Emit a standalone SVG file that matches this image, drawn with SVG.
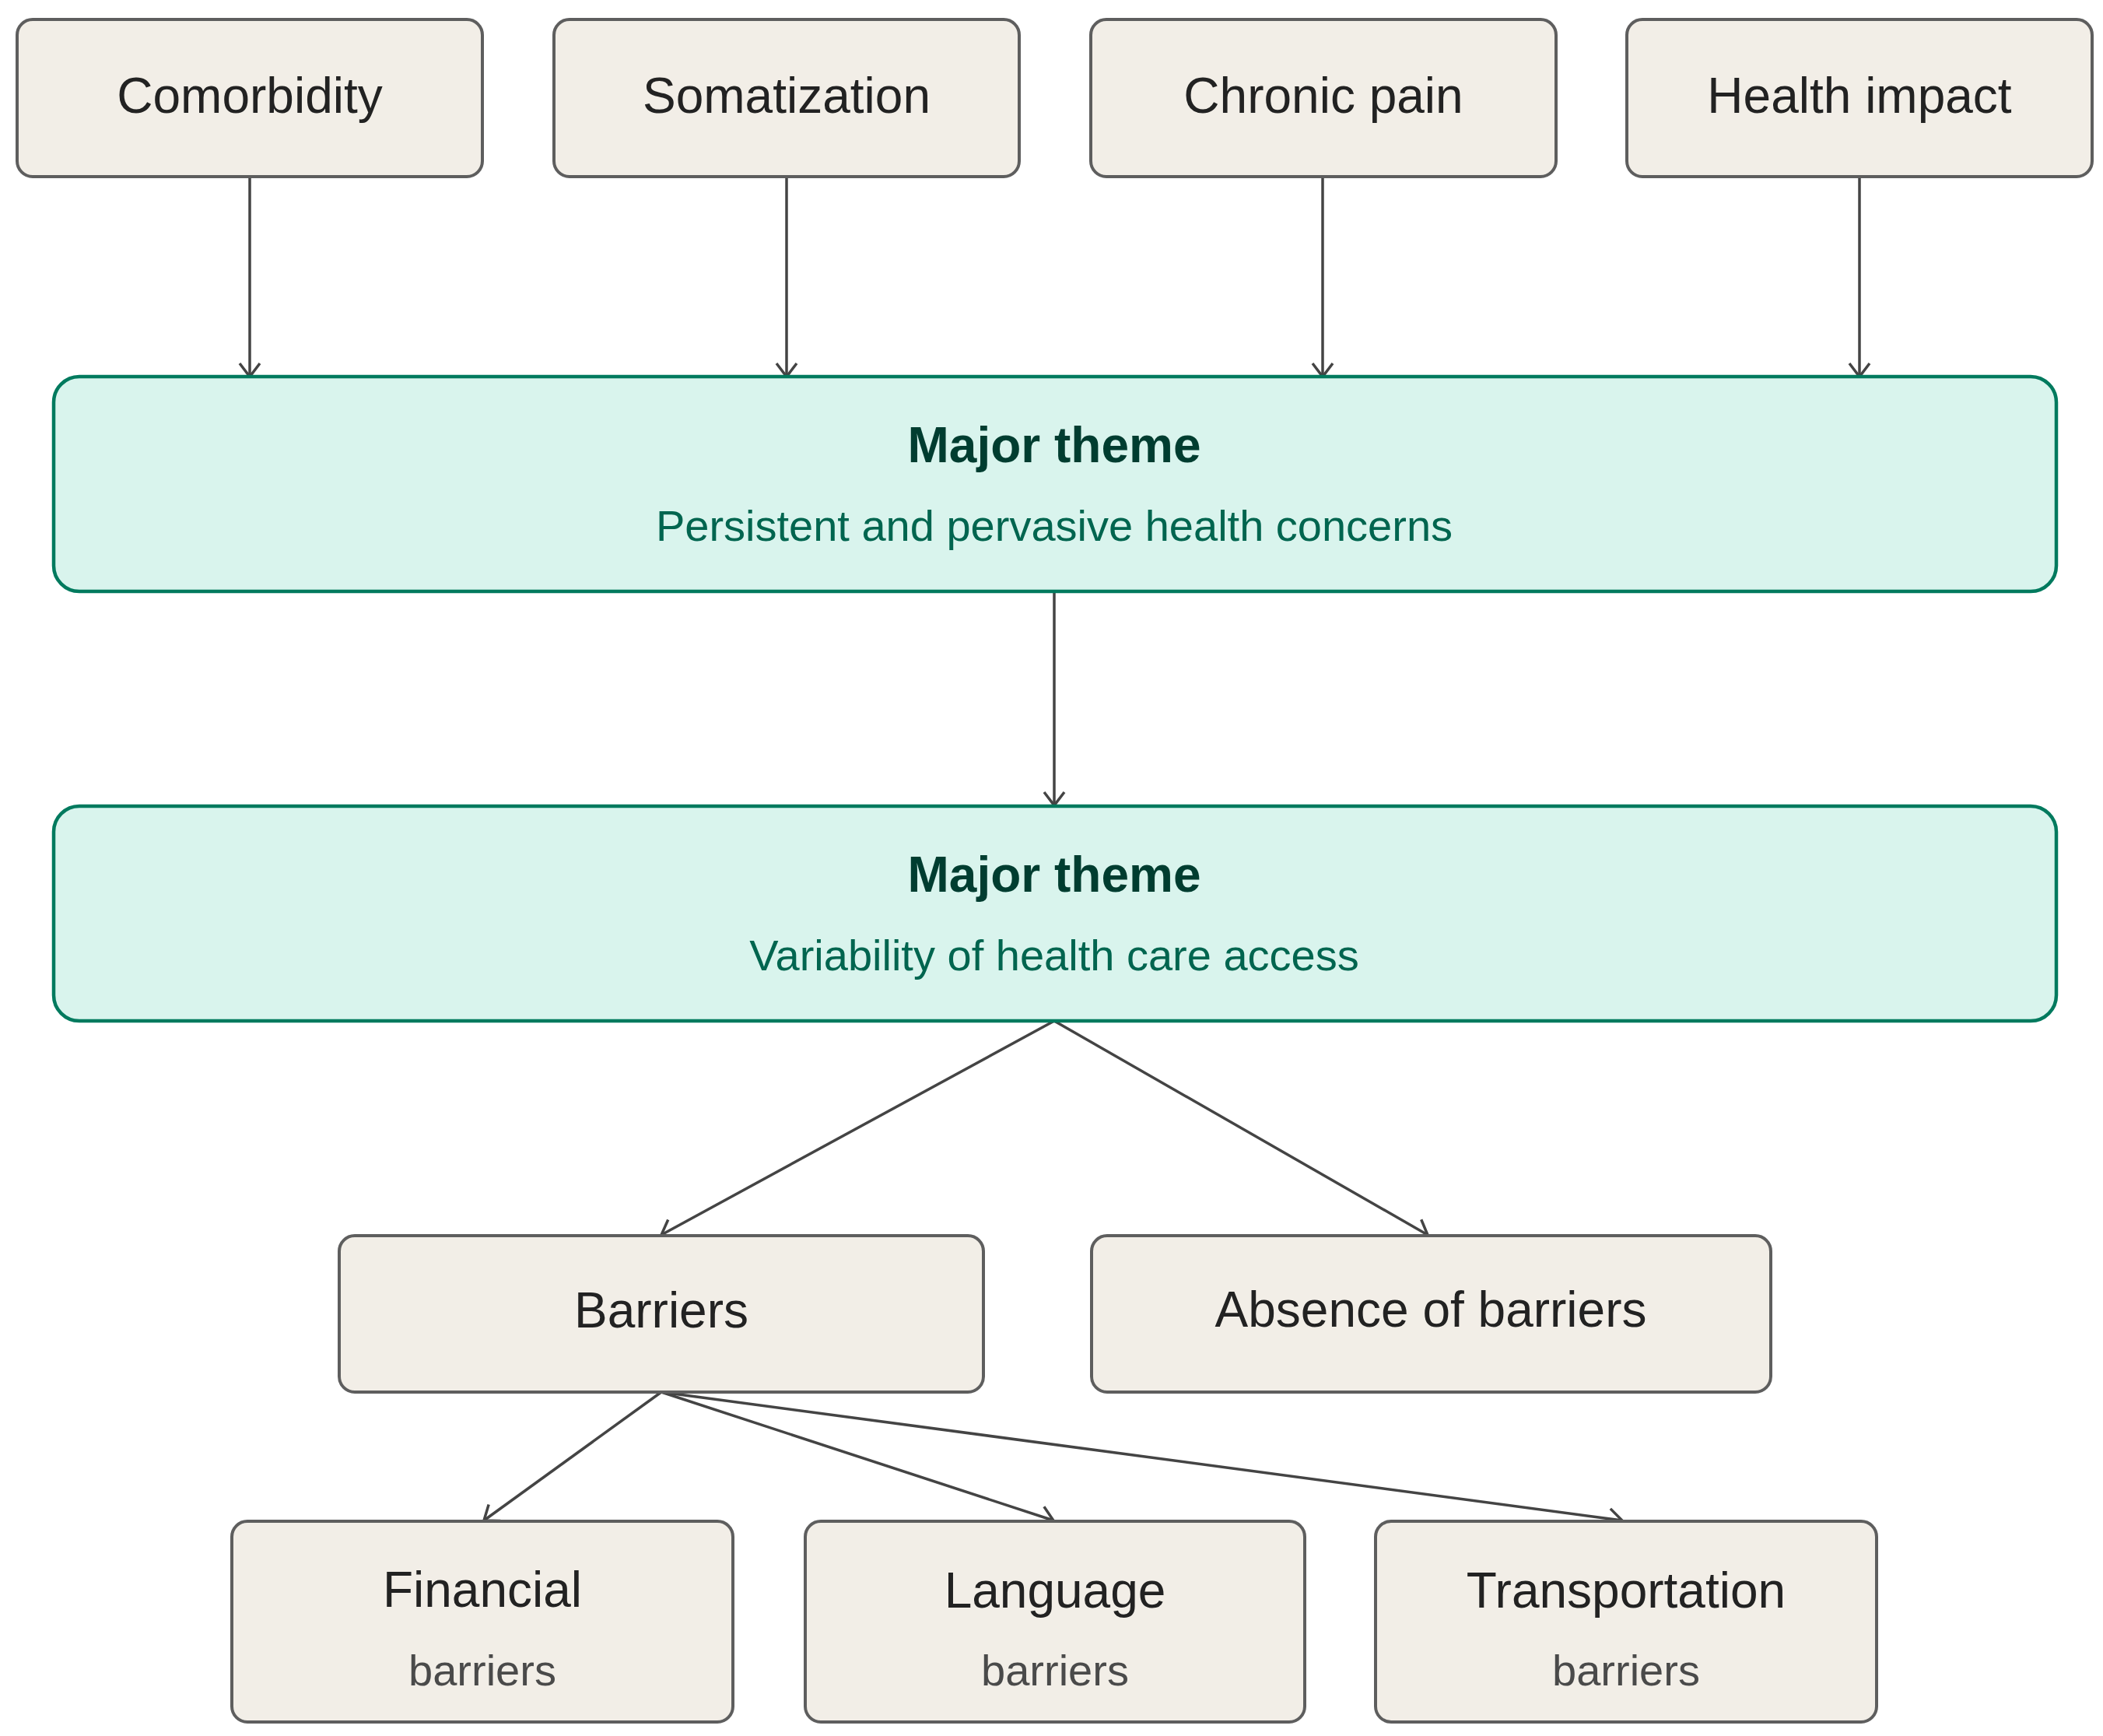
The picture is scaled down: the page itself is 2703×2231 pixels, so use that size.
<svg xmlns="http://www.w3.org/2000/svg" width="2703" height="2231" viewBox="0 0 2703 2231">
<defs>
<style>
.box{fill:#f2eee7;stroke:#5e5e5e;stroke-width:4}
.theme{fill:#d9f4ed;stroke:#007a5e;stroke-width:4.5}
.lbl{font-family:"Liberation Sans",Arial,sans-serif;font-size:64px;fill:#222;text-anchor:middle}
.sub{font-family:"Liberation Sans",Arial,sans-serif;font-size:56px;fill:#4a4a4a;text-anchor:middle}
.ttl{font-family:"Liberation Sans",Arial,sans-serif;font-size:64px;font-weight:bold;fill:#003d30;text-anchor:middle}
.tsub{font-family:"Liberation Sans",Arial,sans-serif;font-size:56px;fill:#00654f;text-anchor:middle}
.edge{stroke:#444;stroke-width:3.5;fill:none;marker-end:url(#arr)}
</style>
<marker id="arr" markerUnits="userSpaceOnUse" markerWidth="40" markerHeight="40" viewBox="-20 -20 40 40" refX="0" refY="0" orient="auto">
<path d="M-17,-13 L0,0 L-17,13" fill="none" stroke="#444" stroke-width="3.5"/>
</marker>
</defs>
<rect width="2703" height="2231" fill="#ffffff"/>
<g id="connectors">
<line class="edge" x1="321" y1="228" x2="321" y2="484"/>
<line class="edge" x1="1011" y1="228" x2="1011" y2="484"/>
<line class="edge" x1="1700" y1="228" x2="1700" y2="484"/>
<line class="edge" x1="2390" y1="228" x2="2390" y2="484"/>
<line class="edge" x1="1355" y1="760" x2="1355" y2="1035"/>
<line class="edge" x1="1355" y1="1312" x2="850" y2="1587"/>
<line class="edge" x1="1355" y1="1312" x2="1835" y2="1587"/>
<line class="edge" x1="850" y1="1789" x2="622" y2="1954"/>
<line class="edge" x1="850" y1="1789" x2="1354" y2="1954"/>
<line class="edge" x1="850" y1="1789" x2="2085" y2="1954"/>
</g>
<g id="comorbidity">
<rect class="box" x="22" y="25" width="598" height="202" rx="20"/>
<text class="lbl" x="321" y="145">Comorbidity</text>
</g>
<g id="somatization">
<rect class="box" x="712" y="25" width="598" height="202" rx="20"/>
<text class="lbl" x="1011" y="145">Somatization</text>
</g>
<g id="chronic-pain">
<rect class="box" x="1402" y="25" width="598" height="202" rx="20"/>
<text class="lbl" x="1701" y="145">Chronic pain</text>
</g>
<g id="health-impact">
<rect class="box" x="2091" y="25" width="598" height="202" rx="20"/>
<text class="lbl" x="2390" y="145">Health impact</text>
</g>
<g id="theme1">
<rect class="theme" x="69" y="484" width="2574" height="276" rx="33"/>
<text class="ttl" x="1355" y="594">Major theme</text>
<text class="tsub" x="1355" y="695">Persistent and pervasive health concerns</text>
</g>
<g id="theme2">
<rect class="theme" x="69" y="1036" width="2574" height="276" rx="33"/>
<text class="ttl" x="1355" y="1146">Major theme</text>
<text class="tsub" x="1355" y="1247">Variability of health care access</text>
</g>
<g id="barriers">
<rect class="box" x="436" y="1588" width="828" height="201" rx="20"/>
<text class="lbl" x="850" y="1706">Barriers</text>
</g>
<g id="absence">
<rect class="box" x="1403" y="1588" width="873" height="201" rx="20"/>
<text class="lbl" x="1839" y="1705">Absence of barriers</text>
</g>
<g id="financial">
<rect class="box" x="298" y="1955" width="644" height="258" rx="20"/>
<text class="lbl" x="620" y="2065">Financial</text>
<text class="sub" x="620" y="2166">barriers</text>
</g>
<g id="language">
<rect class="box" x="1035" y="1955" width="642" height="258" rx="20"/>
<text class="lbl" x="1356" y="2066">Language</text>
<text class="sub" x="1356" y="2166">barriers</text>
</g>
<g id="transportation">
<rect class="box" x="1768" y="1955" width="644" height="258" rx="20"/>
<text class="lbl" x="2090" y="2066">Transportation</text>
<text class="sub" x="2090" y="2166">barriers</text>
</g>
</svg>
